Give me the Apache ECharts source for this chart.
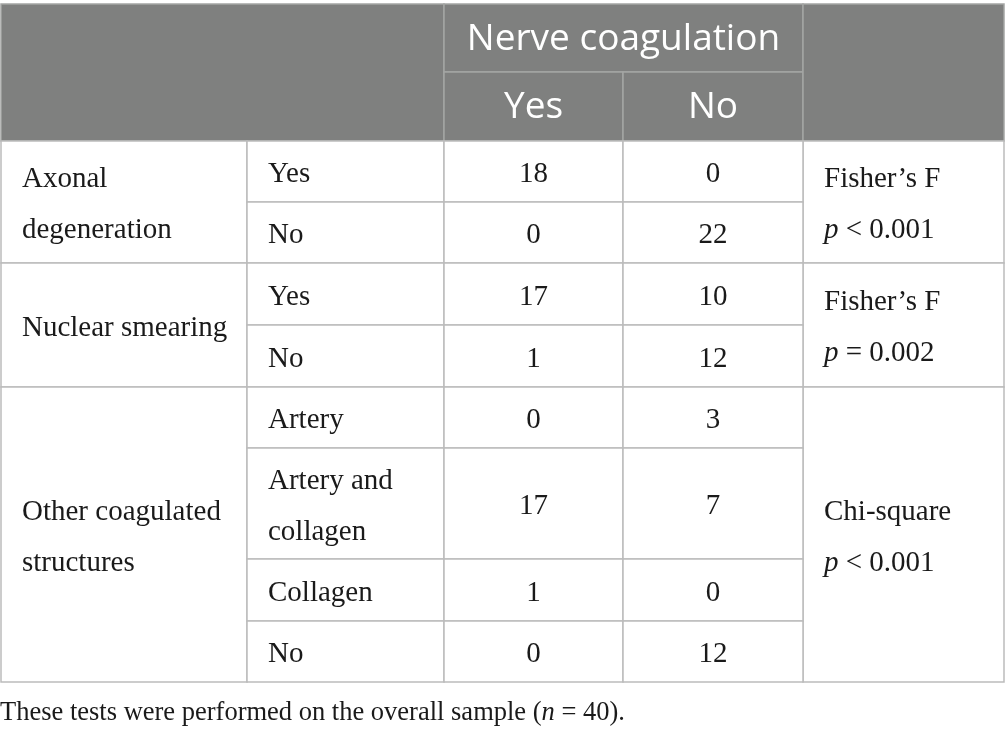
<!DOCTYPE html>
<html>
<head>
<meta charset="utf-8">
<script src="https://cdn.jsdelivr.net/npm/echarts@6/dist/echarts.min.js"></script>
<style>
html, body { margin: 0; padding: 0; background: #fff; }
#chart { width: 1005px; height: 734px; }
</style>
</head>
<body>
<div id="chart"></div>
<script>
// table content
var headTitle = 'Nerve coagulation';
var headCols = ['Yes', 'No'];
var groups = ['Axonal\ndegeneration', 'Nuclear smearing', 'Other coagulated\nstructures'];
var subLabels = ['Yes', 'No', 'Yes', 'No', 'Artery', 'Artery and\ncollagen', 'Collagen', 'No'];
var subGroup = [0, 0, 1, 1, 2, 2, 2, 2];
var yesCounts = [18, 0, 17, 1, 0, 17, 1, 0];
var noCounts = [0, 22, 10, 12, 3, 7, 0, 12];
var tests = ['Fisher\u2019s F', 'Fisher\u2019s F', 'Chi-square'];
var pTexts = ['{i|p} < 0.001', '{i|p} = 0.002', '{i|p} < 0.001'];
var footnote = 'These tests were performed on the overall sample ({i|n} = 40).';

// layout (pixel grid of the table)
var colEdges = [1, 247, 444, 623, 803, 1004];
var rowEdges = [4, 72, 141, 202, 263, 325, 387, 448, 559, 621, 682];

var SERIF = '"Liberation Serif", "DejaVu Serif", serif';
var SANS = '"Open Sans", "Noto Sans", sans-serif';
var HEAD_BG = '#7f807f';
var HEAD_LINE = '#a4a5a4';
var BODY_LINE = '#bcbcbc';
var INK = '#1a1a1a';

var cells = [];
function addCell(c0, c1, r0, r1, text, kind, align) {
    cells.push({ c: [c0, c1], r: [r0, r1], text: text, kind: kind, align: align || 'center' });
}

// header
addCell(0, 2, 0, 2, '', 'head');
addCell(2, 4, 0, 1, headTitle, 'head');
addCell(2, 3, 1, 2, headCols[0], 'head');
addCell(3, 4, 1, 2, headCols[1], 'head');
addCell(4, 5, 0, 2, '', 'head');

// body
groups.forEach(function (g, gi) {
    var first = subGroup.indexOf(gi);
    var last = subGroup.lastIndexOf(gi);
    addCell(0, 1, first + 2, last + 3, g, 'body', 'left');
    addCell(4, 5, first + 2, last + 3, tests[gi] + '\n' + pTexts[gi], 'body', 'left');
});
subLabels.forEach(function (s, i) {
    addCell(1, 2, i + 2, i + 3, s, 'body', 'left');
    addCell(2, 3, i + 2, i + 3, String(yesCounts[i]), 'body');
    addCell(3, 4, i + 2, i + 3, String(noCounts[i]), 'body');
});

function renderCell(params, api) {
    var cell = cells[params.dataIndex];
    var p0 = api.coord([colEdges[cell.c[0]], rowEdges[cell.r[0]]]);
    var p1 = api.coord([colEdges[cell.c[1]], rowEdges[cell.r[1]]]);
    var head = cell.kind === 'head';
    var w = p1[0] - p0[0], h = p1[1] - p0[1];
    var tx = cell.align === 'left' ? p0[0] + 21 : p0[0] + w / 2;
    var font = head ? SANS : SERIF;
    var size = head ? 37 : 29;
    return {
        type: 'group',
        children: [{
            type: 'rect',
            shape: { x: p0[0], y: p0[1], width: w, height: h },
            style: {
                fill: head ? HEAD_BG : '#fff',
                stroke: head ? HEAD_LINE : BODY_LINE,
                lineWidth: 1.5
            }
        }, {
            type: 'text',
            style: {
                text: cell.text,
                x: tx,
                y: p0[1] + h / 2 + (head ? 1 : 3),
                align: cell.align,
                verticalAlign: 'middle',
                fill: head ? '#fff' : INK,
                fontFamily: font,
                fontSize: size,
                lineHeight: 51,
                rich: {
                    i: { fontFamily: font, fontSize: size, fontStyle: 'italic', lineHeight: 51, fill: INK }
                }
            }
        }]
    };
}

var myChart = echarts.init(document.getElementById('chart'));

var option = {
    animation: false,
    grid: { left: 0, right: 0, top: 0, bottom: 0 },
    xAxis: { type: 'value', min: 0, max: 1005, show: false },
    yAxis: { type: 'value', min: 0, max: 734, inverse: true, show: false },
    title: {
        text: footnote,
        left: 0,
        top: 700,
        padding: 0,
        textStyle: {
            fontFamily: SERIF,
            fontSize: 26.5,
            fontWeight: 'normal',
            color: INK,
            rich: {
                i: { fontFamily: SERIF, fontSize: 26.5, fontStyle: 'italic', color: INK }
            }
        }
    },
    series: [{
        type: 'custom',
        coordinateSystem: 'cartesian2d',
        renderItem: renderCell,
        encode: { x: 0, y: 1 },
        data: cells.map(function (c) { return [colEdges[c.c[0]], rowEdges[c.r[0]]]; })
    }]
};

myChart.setOption(option);
</script>
</body>
</html>
